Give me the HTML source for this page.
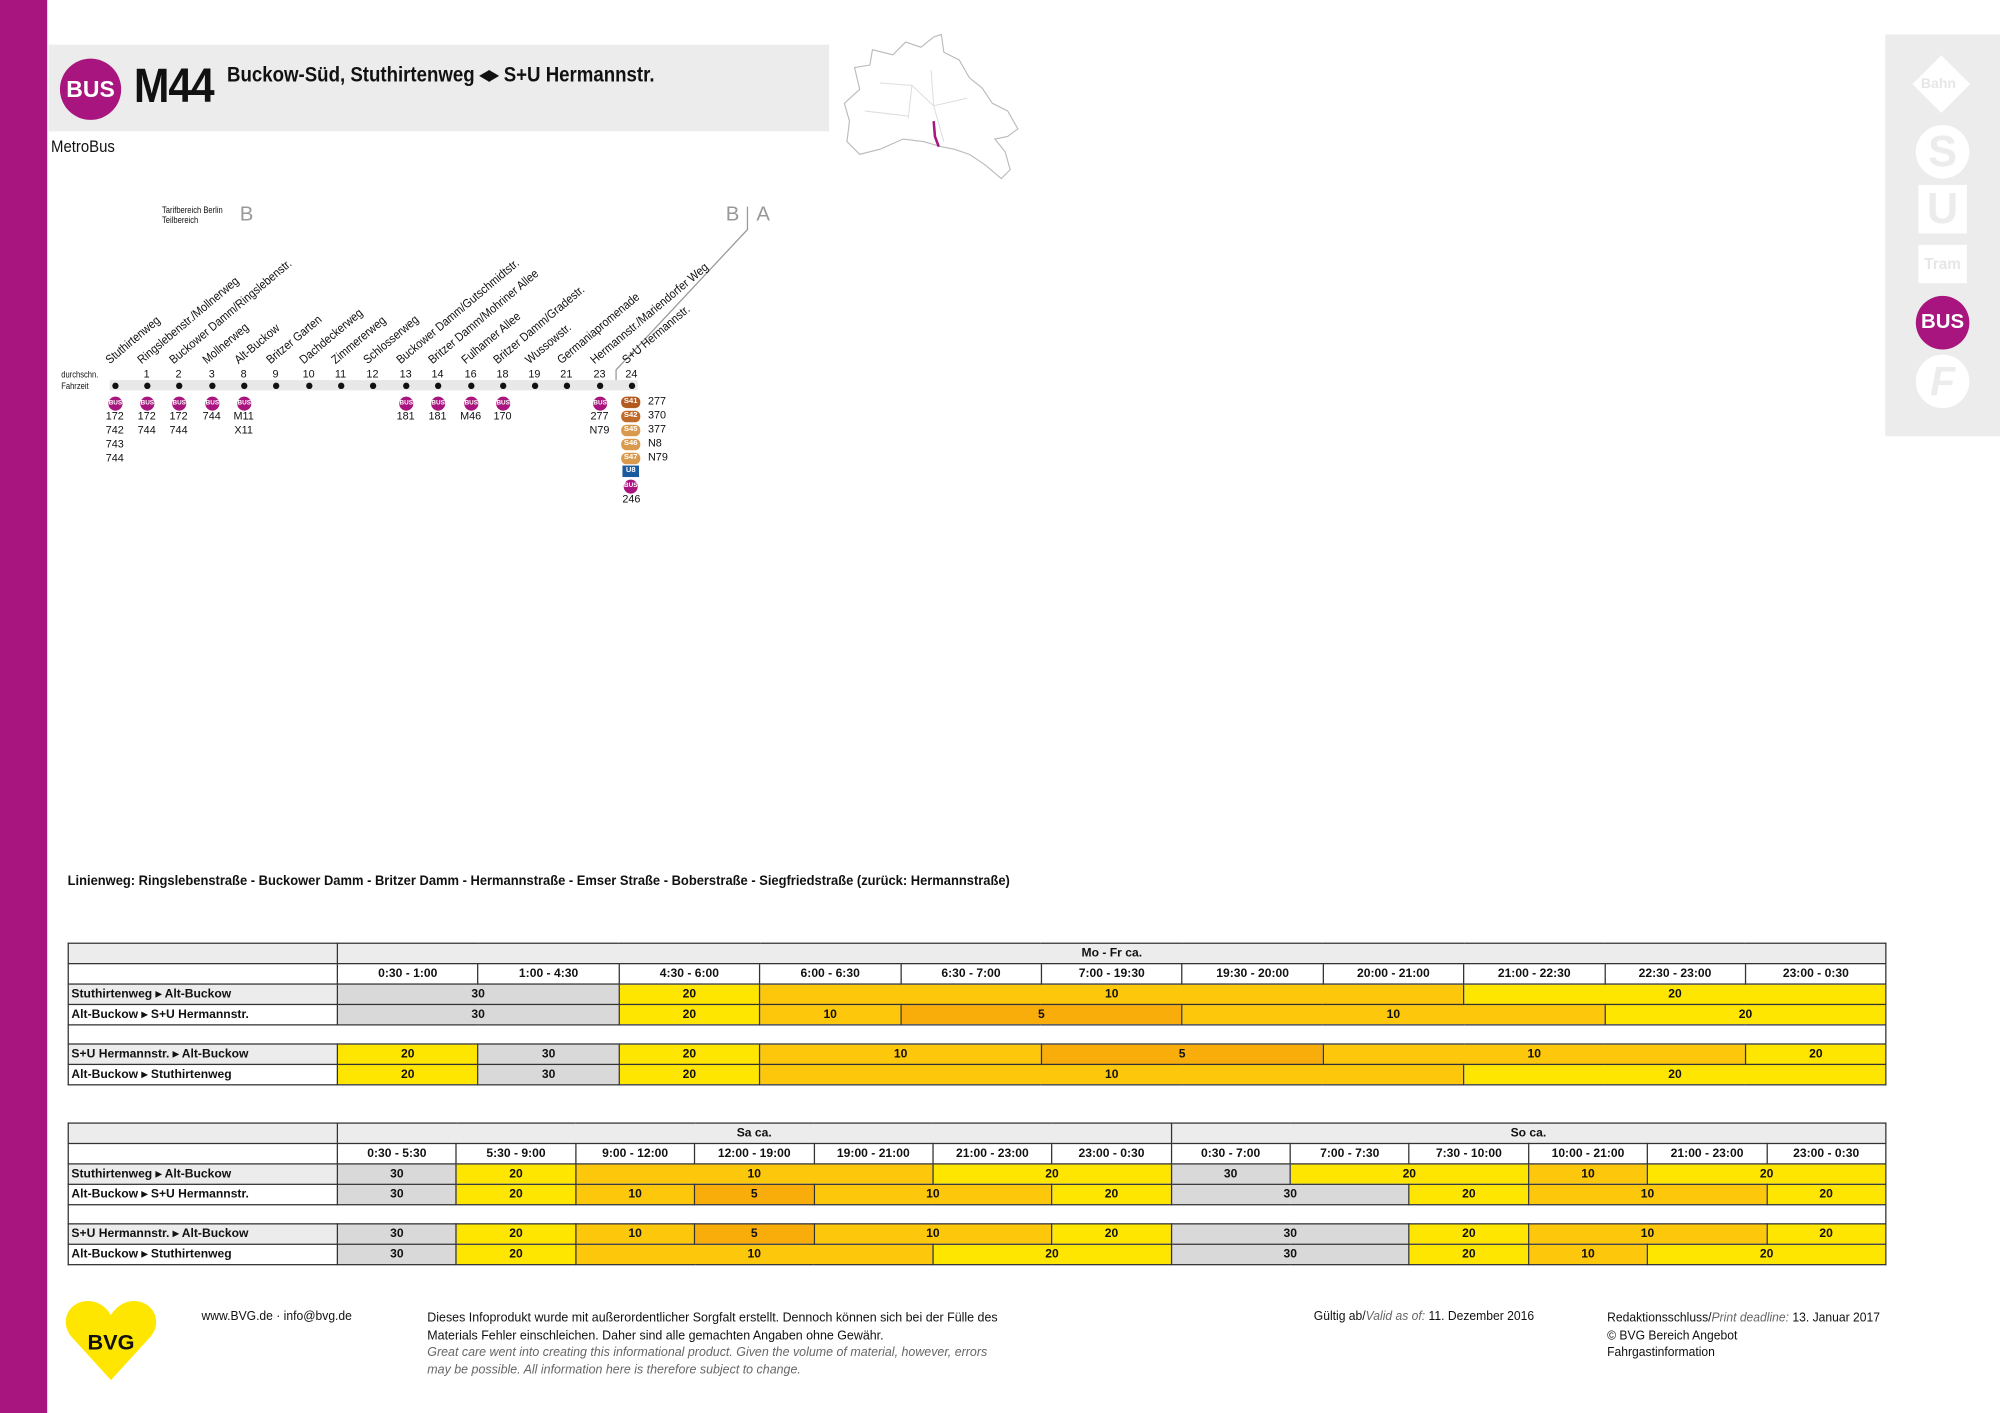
<!DOCTYPE html>
<html><head><meta charset="utf-8"><style>
*{margin:0;padding:0;box-sizing:border-box}
body{width:2000px;height:1413px;overflow:hidden;background:#fff;font-family:"Liberation Sans Narrow","Liberation Sans",sans-serif;color:#111}
#c{position:absolute;left:0;top:0;width:1568px;height:1108px;transform:scale(1.27551);transform-origin:0 0}
.a{position:absolute;white-space:nowrap}
.st{position:absolute;font-size:9.5px;line-height:11px;height:11px;transform:rotate(-40deg) scaleX(0.9);transform-origin:0 100%;white-space:nowrap}
.n{position:absolute;font-size:8.5px;width:20px;text-align:center;line-height:11px}
.bi{position:absolute;width:11px;height:11px;border-radius:50%;background:#a8157e;color:#fff;font-size:5px;font-weight:bold;text-align:center;line-height:11px}
.dot{position:absolute;width:5px;height:5px;border-radius:50%;background:#111}
table{position:absolute;border-collapse:collapse;table-layout:fixed;font-size:9.5px;font-weight:bold}
td{border:1px solid #333;height:16px;text-align:center;padding:0;line-height:14px;overflow:hidden;white-space:nowrap}
td.l{text-align:left;padding-left:2px;font-size:9.5px}
.g{background:#d9d9d9}.y{background:#ffe600}.o{background:#fdc70c}.r{background:#f9ad0a}.h{background:#ececec}
.sb{position:absolute;width:15px;height:9px;border-radius:4px;color:#fff;font-size:6px;font-weight:bold;text-align:center;line-height:9px}
</style></head><body><div id="c">
<div class="a" style="left:0;top:0;width:37px;height:1108px;background:#a8157e"></div>
<div class="a" style="left:38px;top:35px;width:612px;height:68px;background:#ececec"></div>
<div class="a" style="left:47px;top:46px;width:48px;height:48px;border-radius:50%;background:#a8157e;color:#fff;font-weight:bold;font-size:18px;text-align:center;line-height:48px">BUS</div>
<div class="a" style="left:105px;top:48px;font-size:38px;font-weight:bold;line-height:40px;letter-spacing:-1px;transform:scaleX(0.88);transform-origin:0 0">M44</div>
<div class="a" style="left:178px;top:49px;font-size:17px;font-weight:bold;line-height:20px;transform:scaleX(0.86);transform-origin:0 0">Buckow-Süd, Stuthirtenweg ◂▸ S+U Hermannstr.</div>
<div class="a" style="left:40px;top:107px;font-size:13px;transform:scaleX(0.9);transform-origin:0 0">MetroBus</div>
<svg class="a" style="left:660px;top:25px" width="145" height="120" viewBox="0 0 145 120"><path d="M14 45 L10 28 L22 26 L24 14 L40 18 L50 8 L62 12 L72 4 L78 2 L80 16 L92 22 L100 36 L110 44 L118 56 L130 62 L138 76 L130 82 L120 84 L128 94 L132 108 L125 115 L112 104 L100 96 L88 92 L78 90 L64 86 L48 84 L30 92 L14 96 L4 86 L6 70 L2 56 Z" fill="none" stroke="#bbb" stroke-width="0.9"/><path d="M30 40 L55 42 L72 58 L98 52 M55 42 L52 68 M72 58 L80 86 M18 62 L52 66 M72 58 L70 30" fill="none" stroke="#ddd" stroke-width="0.8"/><path d="M72 70 L73 82 L76 90" fill="none" stroke="#a8157e" stroke-width="2"/></svg>
<div class="a" style="left:1478px;top:27px;width:90px;height:315px;background:#ececec"></div>
<div class="a" style="left:1506px;top:50px;width:32px;height:32px;background:#fff;transform:rotate(45deg)"></div>
<div class="a" style="left:1506px;top:60px;font-size:11px;color:#e6e6e6;font-weight:bold">Bahn</div>
<div class="a" style="left:1502px;top:98px;width:42px;height:42px;border-radius:50%;background:#fff;color:#ececec;font-size:34px;font-weight:bold;text-align:center;line-height:42px">S</div>
<div class="a" style="left:1504px;top:145px;width:38px;height:38px;background:#fff;color:#ececec;font-size:34px;font-weight:bold;text-align:center;line-height:38px">U</div>
<div class="a" style="left:1504px;top:192px;width:38px;height:30px;background:#fff;color:#e6e6e6;font-size:12px;font-weight:bold;text-align:center;line-height:30px">Tram</div>
<div class="a" style="left:1502px;top:232px;width:42px;height:42px;border-radius:50%;background:#a8157e;color:#fff;font-size:16px;font-weight:bold;text-align:center;line-height:42px">BUS</div>
<div class="a" style="left:1502px;top:278px;width:42px;height:42px;border-radius:50%;background:#fff;color:#ececec;font-size:32px;font-weight:bold;font-style:italic;text-align:center;line-height:42px">F</div>

<div class="a" style="left:127px;top:162px;font-size:7px;line-height:8px;transform:scaleX(0.85);transform-origin:0 0">Tarifbereich Berlin<br>Teilbereich</div>
<div class="a" style="left:188px;top:160px;font-size:16px;color:#999">B</div>
<div class="a" style="left:569px;top:160px;font-size:16px;color:#999">B</div>
<div class="a" style="left:593px;top:160px;font-size:16px;color:#999">A</div>
<svg class="a" style="left:0;top:0" width="700" height="320"><path d="M586 162 L586 180 L483 290 L483 304" fill="none" stroke="#999" stroke-width="1"/></svg>
<div class="a" style="left:48px;top:290px;font-size:7px;line-height:9px;transform:scaleX(0.85);transform-origin:0 0">durchschn.<br>Fahrzeit</div>
<div class="a" style="left:86px;top:298px;width:414px;height:8px;background:#e8e8e8"></div>

<div class="st" style="left:88px;top:277px">Stuthirtenweg</div>
<div class="st" style="left:113px;top:277px">Ringslebenstr./Mollnerweg</div>
<div class="st" style="left:138px;top:277px">Buckower Damm/Ringslebenstr.</div>
<div class="st" style="left:164px;top:277px">Mollnerweg</div>
<div class="st" style="left:189px;top:277px">Alt-Buckow</div>
<div class="st" style="left:214px;top:277px">Britzer Garten</div>
<div class="st" style="left:240px;top:277px">Dachdeckerweg</div>
<div class="st" style="left:265px;top:277px">Zimmererweg</div>
<div class="st" style="left:290px;top:277px">Schlosserweg</div>
<div class="st" style="left:316px;top:277px">Buckower Damm/Gutschmidtstr.</div>
<div class="st" style="left:341px;top:277px">Britzer Damm/Mohriner Allee</div>
<div class="st" style="left:367px;top:277px">Fulhamer Allee</div>
<div class="st" style="left:392px;top:277px">Britzer Damm/Gradestr.</div>
<div class="st" style="left:417px;top:277px">Wussowstr.</div>
<div class="st" style="left:442px;top:277px">Germaniapromenade</div>
<div class="st" style="left:468px;top:277px">Hermannstr./Mariendorfer Weg</div>
<div class="st" style="left:493px;top:277px">S+U Hermannstr.</div>

<div class="n" style="left:105px;top:288px">1</div><div class="n" style="left:130px;top:288px">2</div><div class="n" style="left:156px;top:288px">3</div><div class="n" style="left:181px;top:288px">8</div><div class="n" style="left:206px;top:288px">9</div><div class="n" style="left:232px;top:288px">10</div><div class="n" style="left:257px;top:288px">11</div><div class="n" style="left:282px;top:288px">12</div><div class="n" style="left:308px;top:288px">13</div><div class="n" style="left:333px;top:288px">14</div><div class="n" style="left:359px;top:288px">16</div><div class="n" style="left:384px;top:288px">18</div><div class="n" style="left:409px;top:288px">19</div><div class="n" style="left:434px;top:288px">21</div><div class="n" style="left:460px;top:288px">23</div><div class="n" style="left:485px;top:288px">24</div>

<div class="dot" style="left:88px;top:300px"></div><div class="dot" style="left:113px;top:300px"></div><div class="dot" style="left:138px;top:300px"></div><div class="dot" style="left:164px;top:300px"></div><div class="dot" style="left:189px;top:300px"></div><div class="dot" style="left:214px;top:300px"></div><div class="dot" style="left:240px;top:300px"></div><div class="dot" style="left:265px;top:300px"></div><div class="dot" style="left:290px;top:300px"></div><div class="dot" style="left:316px;top:300px"></div><div class="dot" style="left:341px;top:300px"></div><div class="dot" style="left:367px;top:300px"></div><div class="dot" style="left:392px;top:300px"></div><div class="dot" style="left:417px;top:300px"></div><div class="dot" style="left:442px;top:300px"></div><div class="dot" style="left:468px;top:300px"></div><div class="dot" style="left:493px;top:300px"></div>

<div class="bi" style="left:85px;top:311px">BUS</div><div class="bi" style="left:110px;top:311px">BUS</div><div class="bi" style="left:135px;top:311px">BUS</div><div class="bi" style="left:161px;top:311px">BUS</div><div class="bi" style="left:186px;top:311px">BUS</div><div class="bi" style="left:313px;top:311px">BUS</div><div class="bi" style="left:338px;top:311px">BUS</div><div class="bi" style="left:364px;top:311px">BUS</div><div class="bi" style="left:389px;top:311px">BUS</div><div class="bi" style="left:465px;top:311px">BUS</div>
<div class="n" style="left:80px;top:321px">172<br>742<br>743<br>744</div>
<div class="n" style="left:105px;top:321px">172<br>744</div>
<div class="n" style="left:130px;top:321px">172<br>744</div>
<div class="n" style="left:156px;top:321px">744</div>
<div class="n" style="left:181px;top:321px">M11<br>X11</div>
<div class="n" style="left:308px;top:321px">181</div>
<div class="n" style="left:333px;top:321px">181</div>
<div class="n" style="left:359px;top:321px">M46</div>
<div class="n" style="left:384px;top:321px">170</div>
<div class="n" style="left:460px;top:321px">277<br>N79</div>
<div class="sb" style="left:487px;top:311px;background:#b35a1f">S41</div>
<div class="sb" style="left:487px;top:322px;background:#c06a2a">S42</div>
<div class="sb" style="left:487px;top:333px;background:#d99a4e">S45</div>
<div class="sb" style="left:487px;top:344px;background:#d99a4e">S46</div>
<div class="sb" style="left:487px;top:355px;background:#d99a4e">S47</div>
<div class="sb" style="left:488px;top:365px;width:13px;border-radius:0;background:#1c5aa0">U8</div>
<div class="bi" style="left:489px;top:376px">BUS</div>
<div class="n" style="left:485px;top:386px">246</div>
<div class="a" style="left:508px;top:309px;font-size:8.5px;line-height:11px">277<br>370<br>377<br>N8<br>N79</div>

<div class="a" style="left:53px;top:685px;font-size:10.5px;font-weight:bold;transform:scaleX(0.965);transform-origin:0 0">Linienweg: Ringslebenstraße - Buckower Damm - Britzer Damm - Hermannstraße - Emser Straße - Boberstraße - Siegfriedstraße (zurück: Hermannstraße)</div>

<table style="left:53px;top:739px;width:1425px">
<colgroup><col style="width:211px"><col span="11" style="width:110.4px"></colgroup>
<tr><td class="h"></td><td class="h" colspan="11">Mo - Fr ca.</td></tr>
<tr><td></td><td>0:30 - 1:00</td><td>1:00 - 4:30</td><td>4:30 - 6:00</td><td>6:00 - 6:30</td><td>6:30 - 7:00</td><td>7:00 - 19:30</td><td>19:30 - 20:00</td><td>20:00 - 21:00</td><td>21:00 - 22:30</td><td>22:30 - 23:00</td><td>23:00 - 0:30</td></tr>
<tr><td class="l h">Stuthirtenweg ▸ Alt-Buckow</td><td class="g" colspan="2">30</td><td class="y">20</td><td class="o" colspan="5">10</td><td class="y" colspan="3">20</td></tr>
<tr><td class="l">Alt-Buckow ▸ S+U Hermannstr.</td><td class="g" colspan="2">30</td><td class="y">20</td><td class="o">10</td><td class="r" colspan="2">5</td><td class="o" colspan="3">10</td><td class="y" colspan="2">20</td></tr>
<tr><td colspan="12" style="height:15px"></td></tr>
<tr><td class="l h">S+U Hermannstr. ▸ Alt-Buckow</td><td class="y">20</td><td class="g">30</td><td class="y">20</td><td class="o" colspan="2">10</td><td class="r" colspan="2">5</td><td class="o" colspan="3">10</td><td class="y">20</td></tr>
<tr><td class="l">Alt-Buckow ▸ Stuthirtenweg</td><td class="y">20</td><td class="g">30</td><td class="y">20</td><td class="o" colspan="5">10</td><td class="y" colspan="3">20</td></tr>
</table>

<table style="left:53px;top:880px;width:1425px">
<colgroup><col style="width:211px"><col span="13" style="width:93.38px"></colgroup>
<tr><td class="h"></td><td class="h" colspan="7">Sa ca.</td><td class="h" colspan="6">So ca.</td></tr>
<tr><td></td><td>0:30 - 5:30</td><td>5:30 - 9:00</td><td>9:00 - 12:00</td><td>12:00 - 19:00</td><td>19:00 - 21:00</td><td>21:00 - 23:00</td><td>23:00 - 0:30</td><td>0:30 - 7:00</td><td>7:00 - 7:30</td><td>7:30 - 10:00</td><td>10:00 - 21:00</td><td>21:00 - 23:00</td><td>23:00 - 0:30</td></tr>
<tr><td class="l h">Stuthirtenweg ▸ Alt-Buckow</td><td class="g">30</td><td class="y">20</td><td class="o" colspan="3">10</td><td class="y" colspan="2">20</td><td class="g">30</td><td class="y" colspan="2">20</td><td class="o">10</td><td class="y" colspan="2">20</td></tr>
<tr><td class="l">Alt-Buckow ▸ S+U Hermannstr.</td><td class="g">30</td><td class="y">20</td><td class="o">10</td><td class="r">5</td><td class="o" colspan="2">10</td><td class="y">20</td><td class="g" colspan="2">30</td><td class="y">20</td><td class="o" colspan="2">10</td><td class="y">20</td></tr>
<tr><td colspan="14" style="height:15px"></td></tr>
<tr><td class="l h">S+U Hermannstr. ▸ Alt-Buckow</td><td class="g">30</td><td class="y">20</td><td class="o">10</td><td class="r">5</td><td class="o" colspan="2">10</td><td class="y">20</td><td class="g" colspan="2">30</td><td class="y">20</td><td class="o" colspan="2">10</td><td class="y">20</td></tr>
<tr><td class="l">Alt-Buckow ▸ Stuthirtenweg</td><td class="g">30</td><td class="y">20</td><td class="o" colspan="3">10</td><td class="y" colspan="2">20</td><td class="g" colspan="2">30</td><td class="y">20</td><td class="o">10</td><td class="y" colspan="2">20</td></tr>
</table>

<svg class="a" style="left:50px;top:1018px" width="74" height="66" viewBox="0 0 74 66"><path d="M37 64 L6 30 C-4 18 4 2 19 2 C28 2 34 8 37 13 C40 8 46 2 55 2 C70 2 78 18 68 30 Z" fill="#ffe600"/><text x="37" y="40" text-anchor="middle" font-family="Liberation Sans" font-weight="bold" font-size="17" fill="#111">BVG</text></svg>
<div class="a" style="left:158px;top:1027px;font-size:10px;transform:scaleX(0.95);transform-origin:0 0">www.BVG.de · info@bvg.de</div>
<div class="a" style="left:335px;top:1027px;font-size:10px;line-height:13.5px;transform:scaleX(0.975);transform-origin:0 0">Dieses Infoprodukt wurde mit außerordentlicher Sorgfalt erstellt. Dennoch können sich bei der Fülle des<br>Materials Fehler einschleichen. Daher sind alle gemachten Angaben ohne Gewähr.<br><i style="color:#666">Great care went into creating this informational product. Given the volume of material, however, errors<br>may be possible. All information here is therefore subject to change.</i></div>
<div class="a" style="left:1030px;top:1027px;font-size:10px;transform:scaleX(0.95);transform-origin:0 0">Gültig ab/<i style="color:#666">Valid as of:</i> 11. Dezember 2016</div>
<div class="a" style="left:1260px;top:1027px;font-size:10px;line-height:13.5px;transform:scaleX(0.95);transform-origin:0 0">Redaktionsschluss/<i style="color:#666">Print deadline:</i> 13. Januar 2017<br>© BVG Bereich Angebot<br>Fahrgastinformation</div>
</div></body></html>
